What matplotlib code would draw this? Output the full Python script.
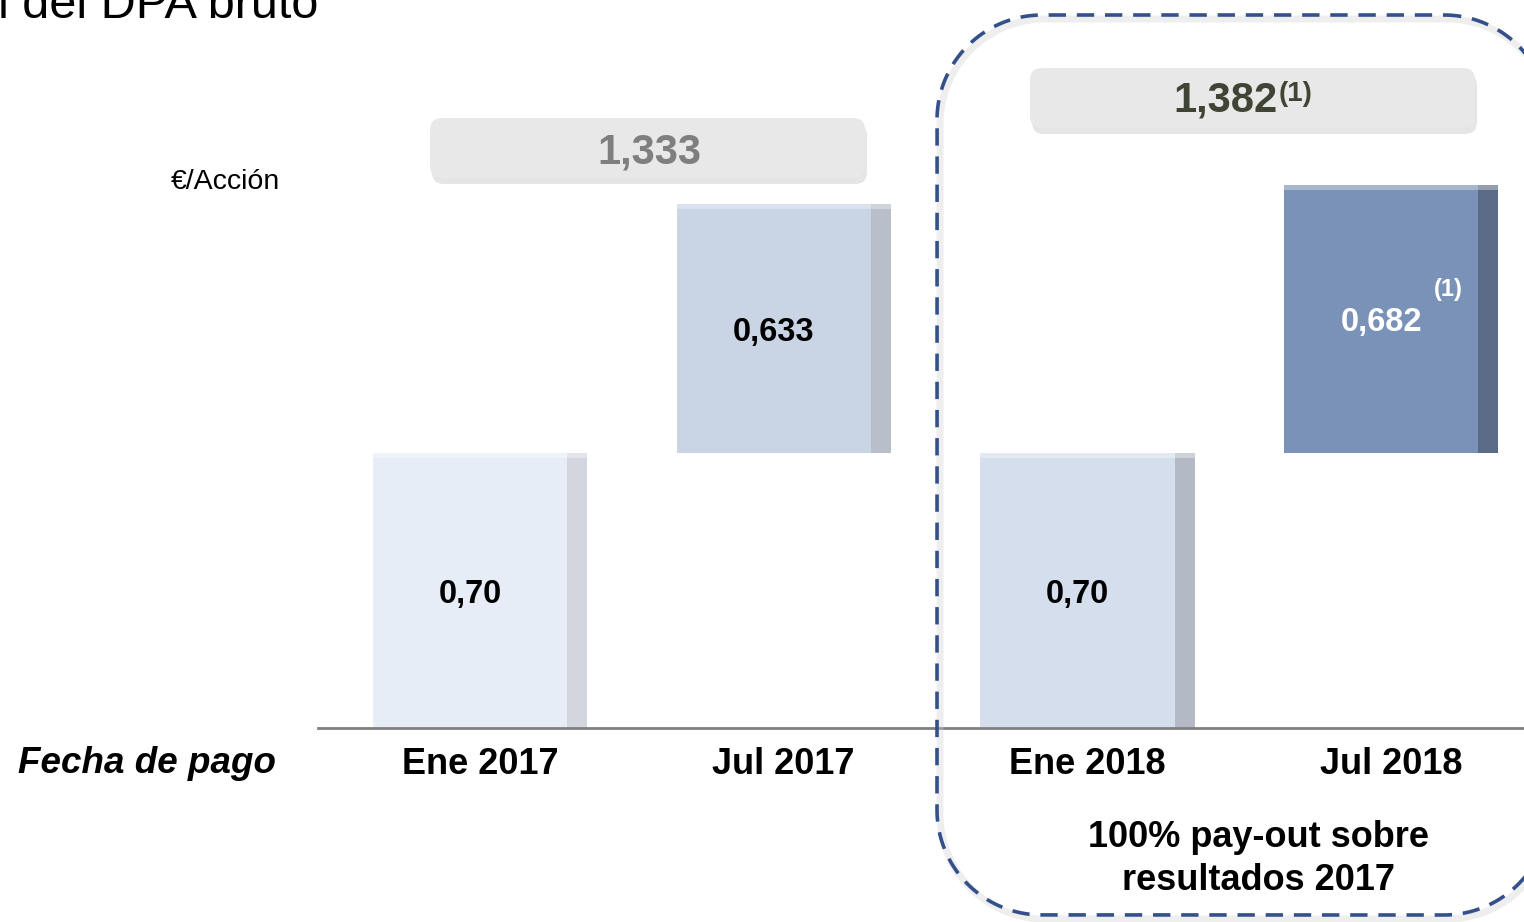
import numpy as np
import matplotlib.pyplot as plt
from matplotlib.patches import FancyBboxPatch

plt.rcParams['font.family'] = ['Liberation Sans', 'DejaVu Sans']

# Datos del gráfico (cascada de DPA bruto)
fechas = ["Ene 2017", "Jul 2017", "Ene 2018", "Jul 2018"]
dividendos = [0.70, 0.633, 0.70, 0.682]
etiquetas = ["0,70", "0,633", "0,70", "0,682"]
grupos = [[0, 1], [2, 3]]  # pares que suman el total anual

colores_cara = ["#E6EDF7", "#C9D4E4", "#D5DEEC", "#7A92B8"]
colores_lado = ["#D3D6DE", "#B8BECA", "#B3BAC6", "#5A6A87"]
colores_texto = ["black", "black", "black", "white"]


def fmt(v):
    return f"{v:.3f}".replace(".", ",")


def caja_redondeada(x0, y0, w, h, r, n=40):
    # polilínea (sin curvas bezier, para que el recorte no la deforme)
    pts = []
    esquinas = [(x0 + w - r, y0 + r, -90, 0), (x0 + w - r, y0 + h - r, 0, 90),
                (x0 + r, y0 + h - r, 90, 180), (x0 + r, y0 + r, 180, 270)]
    for cx, cy, a0, a1 in esquinas:
        a = np.radians(np.linspace(a0, a1, n))
        pts += list(zip(cx + r * np.cos(a), cy + r * np.sin(a)))
    pts.append(pts[0])
    return np.array(pts)


# bases de la cascada: cada par empieza en 0
bases = []
for g in grupos:
    acum = 0
    for i in g:
        bases.append(acum)
        acum += dividendos[i]

W, H = 1524, 922
fig = plt.figure(figsize=(W / 100, H / 100), dpi=100)

# ejes principales (0 en el píxel 728, 393 px por unidad)
ax = fig.add_axes([318 / W, 194 / H, 1206 / W, 728 / H])
ax.set_xlim(-0.533, 3.437)
ax.set_ylim(0, 728 / 393)

ancho = 0.705
lado = 0.066
x = list(range(len(fechas)))
tops = [b + d for b, d in zip(bases, dividendos)]
ax.bar(x, dividendos, bottom=bases, width=ancho, color=colores_cara, zorder=2)
ax.bar([i + ancho / 2 - lado / 2 for i in x], dividendos, bottom=bases,
       width=lado, color=colores_lado, zorder=3)
# brillo superior
ax.bar(x, 0.012, bottom=[t - 0.012 for t in tops], width=ancho, color="white",
       alpha=0.35, zorder=3.5)

for i in x:
    ax.text(i - lado / 2, bases[i] + dividendos[i] / 2 - 0.01, etiquetas[i],
            ha="center", va="center", fontsize=23.5, fontweight="bold",
            color=colores_texto[i], zorder=4)
ax.text(3.188, bases[3] + dividendos[3] * 0.608, "(1)", ha="center",
        va="center", fontsize=17, fontweight="bold", color="white", zorder=4)

ax.axhline(0, color="#808080", lw=2, clip_on=False, zorder=5)
for s in ax.spines.values():
    s.set_visible(False)
ax.set_yticks([])
ax.set_xticks(x)
ax.set_xticklabels(fechas, fontsize=26, fontweight="bold")
ax.tick_params(axis="x", length=0, pad=14)
ax.patch.set_alpha(0)

# capa de anotaciones en píxeles
ov = fig.add_axes([0, 0, 1, 1])
ov.set_xlim(0, W)
ov.set_ylim(H, 0)
ov.axis("off")
ov.patch.set_alpha(0)

# recuadro discontinuo (2018)
borde = caja_redondeada(937, 15, 612, 900, 105)
ov.plot(borde[:, 0] + 3, borde[:, 1] + 4, color="#CFCFCF", lw=5, alpha=0.35,
        solid_capstyle="round")
ov.plot(borde[:, 0], borde[:, 1], color="#34508A", lw=2.6, linestyle=(0, (4.8, 3)))

# cajas de totales
totales = [sum(dividendos[i] for i in g) for g in grupos]
cajas = [(430, 118, 435, 60, "#7F7F7F"), (1030, 68, 445, 60, "#3F4434")]
for (bx, by, bw, bh, col), tot, k in zip(cajas, totales, range(2)):
    ov.add_patch(FancyBboxPatch((bx + 2, by + 6), bw, bh, boxstyle="round,pad=0,rounding_size=12",
                                fc="#D4D4D4", ec="none", alpha=0.6))
    ov.add_patch(FancyBboxPatch((bx, by), bw, bh, boxstyle="round,pad=0,rounding_size=12",
                                fc="#E8E8E8", ec="none"))
    txt = fmt(tot)
    if k == 1:
        ov.text(bx + bw / 2 - 27, by + bh / 2 + 3, txt, ha="center", va="center",
                fontsize=30, fontweight="bold", color=col)
        ov.text(bx + bw / 2 + 26, by + bh / 2 - 4, "(1)", ha="left", va="center",
                fontsize=20, fontweight="bold", color=col)
    else:
        ov.text(bx + bw / 2 + 2, by + bh / 2 + 4, txt, ha="center", va="center",
                fontsize=30, fontweight="bold", color=col)

ov.text(318, 18, "Evolución del DPA bruto", ha="right", va="baseline", fontsize=35)
ov.text(280, 182, "€/Acción", ha="right", va="center", fontsize=20.5)
ov.text(18, 763, "Fecha de pago", ha="left", va="center", fontsize=26.5,
        fontweight="bold", fontstyle="italic")
ov.text(1258, 859, "100% pay-out sobre\nresultados 2017", ha="center", va="center",
        fontsize=26, fontweight="bold", linespacing=1.3)

fig.savefig("out.png", dpi=100)
